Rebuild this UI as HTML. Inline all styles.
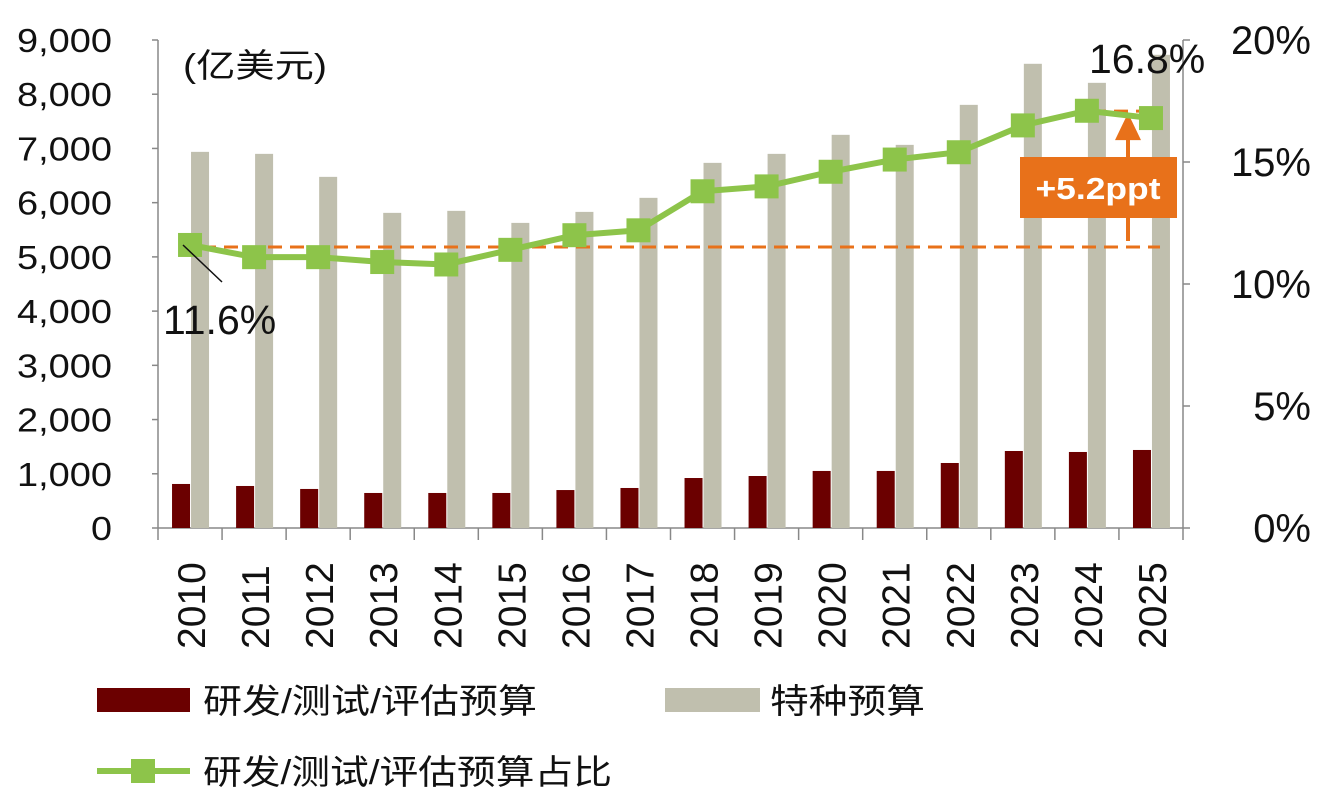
<!DOCTYPE html>
<html><head><meta charset="utf-8"><style>
body{margin:0;background:#fff;}
svg{display:block;font-family:"Liberation Sans","Noto Sans CJK SC",sans-serif;}
</style></head><body>
<svg id="chart" width="1323" height="801"></svg>
<script>
const years=["2010","2011","2012","2013","2014","2015","2016","2017","2018","2019","2020","2021","2022","2023","2024","2025"];
const rdBudget=[812,775,720,646,646,646,700,738,922,959,1052,1052,1199,1420,1402,1439];
const specialBudget=[6937,6900,6476,5812,5849,5627,5830,6089,6734,6900,7251,7066,7804,8561,8210,8727];
const rdShare=[11.6,11.1,11.1,10.9,10.8,11.4,12.0,12.2,13.8,14.0,14.6,15.1,15.4,16.5,17.1,16.8];
const leftTicks=[0,1000,2000,3000,4000,5000,6000,7000,8000,9000];
const rightTicks=[0,5,10,15,20];
const NS="http://www.w3.org/2000/svg";
const svg=document.getElementById('chart');
const X0=158,X1=1183,Y0=528,Y1=40;
const cw=(X1-X0)/years.length;
const xc=i=>X0+cw*(i+0.5);
const yL=v=>Y0-(v/9000)*(Y0-Y1);
const yR=v=>Y0-(v/20)*(Y0-Y1);
function el(t,a,txt){const e=document.createElementNS(NS,t);for(const k in a)e.setAttribute(k,a[k]);if(txt!==undefined)e.textContent=txt;svg.appendChild(e);return e;}
function fit(t,w){t.setAttribute('textLength',w);t.setAttribute('lengthAdjust','spacingAndGlyphs');}
let e=el('line',{x1:X0,y1:Y1,x2:X0,y2:Y0,stroke:'#888','stroke-width':1.5});

e=el('line',{x1:X1,y1:Y1,x2:X1,y2:Y0,stroke:'#888','stroke-width':1.5});

e=el('line',{x1:X0,y1:Y0,x2:X1,y2:Y0,stroke:'#888','stroke-width':1.5});

leftTicks.forEach(v=>{
 el('line',{x1:X0-6,y1:yL(v),x2:X0,y2:yL(v),stroke:'#888','stroke-width':1.5});
 const s=v.toLocaleString('en-US');
 const t=el('text',{x:112,y:yL(v)+12,'text-anchor':'end','font-size':33,fill:'#111'},s);
 fit(t,s.length===1?21:(s.length*19));
 
});
rightTicks.forEach(v=>{
 el('line',{x1:X1,y1:yR(v),x2:X1+7,y2:yR(v),stroke:'#888','stroke-width':1.5});
 const t=el('text',{x:1311,y:yR(v)+14,'text-anchor':'end','font-size':40,fill:'#111'},v+'%');
 
});
for(let i=0;i<=years.length;i++){el('line',{x1:X0+cw*i,y1:Y0,x2:X0+cw*i,y2:Y0+12,stroke:'#888','stroke-width':1.5});}
years.forEach((y,i)=>{
 const t=el('text',{x:0,y:0,transform:`translate(${xc(i)+15},649) rotate(-90)`,'font-size':39,fill:'#111'},y);
 
});
years.forEach((y,i)=>{
 const b=el('rect',{x:xc(i)-18,y:yL(rdBudget[i]),width:18,height:Y0-yL(rdBudget[i]),fill:'#6b0000'});
 
 const g=el('rect',{x:xc(i)+1,y:yL(specialBudget[i]),width:18,height:Y0-yL(specialBudget[i]),fill:'#c0bfae'});
 
});
const yBaseRef=yR(rdShare[0]),yTopRef=yR(rdShare[rdShare.length-1]);
e=el('line',{x1:180,y1:yBaseRef+2,x2:1160,y2:yBaseRef+2,stroke:'#e8711a','stroke-width':3,'stroke-dasharray':'14,8'});

e=el('line',{x1:1092,y1:yTopRef-7,x2:1160,y2:yTopRef-7,stroke:'#e8711a','stroke-width':3,'stroke-dasharray':'14,8'});

e=el('line',{x1:1128,y1:yBaseRef-4,x2:1128,y2:yTopRef+8,stroke:'#e8711a','stroke-width':4});

el('polygon',{points:`1115,${yTopRef+22} 1141,${yTopRef+22} 1128,${yTopRef-5}`,fill:'#e8711a'});
const pts=rdShare.map((v,i)=>xc(i)+','+yR(v)).join(' ');
e=el('polyline',{points:pts,fill:'none',stroke:'#8dc44a','stroke-width':6});

rdShare.forEach((v,i)=>{
 const m=el('rect',{x:xc(i)-12,y:yR(v)-12,width:24,height:24,fill:'#8dc44a'});
 
});
e=el('rect',{x:1020,y:157,width:157,height:61,fill:'#e8711a'});

e=el('text',{x:1098,y:199,'text-anchor':'middle','font-size':31,'font-weight':'bold',fill:'#fff'},'+5.2ppt');
fit(e,125);

el('line',{x1:183,y1:245,x2:222,y2:282,stroke:'#111','stroke-width':1.5});
e=el('text',{x:163,y:334,'font-size':41,fill:'#111'},'11.6%');

e=el('text',{x:1089,y:73,'font-size':41,fill:'#111'},'16.8%');

e=el('text',{x:183,y:77,'font-size':33,fill:'#111'},'(亿美元)');
fit(e,144);

e=el('rect',{x:97,y:688,width:93,height:24,fill:'#6b0000'});

e=el('text',{x:203,y:713,'font-size':34,fill:'#111'},'研发/测试/评估预算');
fit(e,334);

e=el('rect',{x:665,y:688,width:95,height:24,fill:'#c0bfae'});

e=el('text',{x:770,y:713,'font-size':34,fill:'#111'},'特种预算');
fit(e,155);

e=el('line',{x1:97,y1:771,x2:190,y2:771,stroke:'#8dc44a','stroke-width':6});

el('rect',{x:131,y:759,width:24,height:24,fill:'#8dc44a'});
e=el('text',{x:203,y:784,'font-size':34,fill:'#111'},'研发/测试/评估预算占比');
fit(e,409);

</script>
</body></html>
